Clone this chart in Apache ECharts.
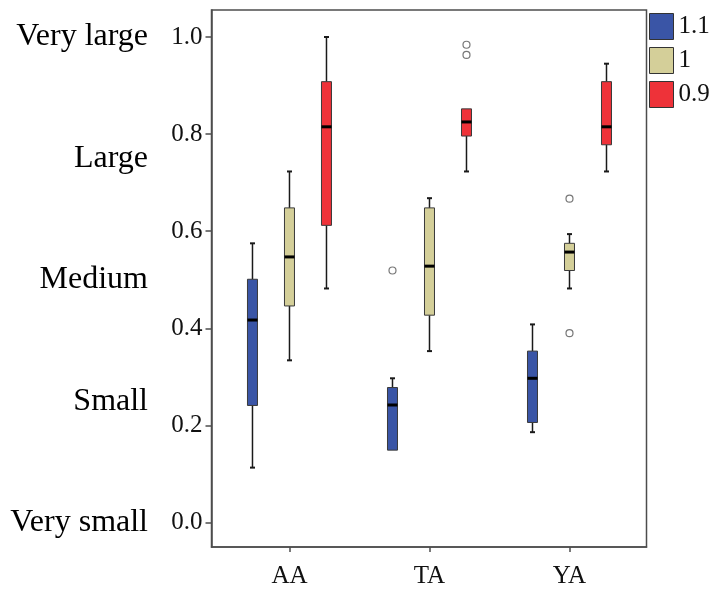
<!DOCTYPE html>
<html>
<head>
<meta charset="utf-8">
<script src="https://cdn.jsdelivr.net/npm/echarts@6/dist/echarts.min.js"></script>
<style>
  html, body { margin: 0; padding: 0; background: #fff; }
  #chart { width: 712px; height: 589px; }
</style>
</head>
<body>
<div id="chart"></div>
<script>
// Categories on the x axis and the three groups shown in the legend
const categories = ['AA', 'TA', 'YA'];
const groupNames = ['1.1', '1', '0.9'];

// Box statistics per category: [lower whisker, Q1, median, Q3, upper whisker]
const box11 = [
  [0.113, 0.241, 0.417, 0.501, 0.575],
  [0.149, 0.149, 0.242, 0.278, 0.297],
  [0.186, 0.206, 0.297, 0.353, 0.408]
];
const box10 = [
  [0.334, 0.446, 0.547, 0.648, 0.723],
  [0.353, 0.427, 0.528, 0.648, 0.668],
  [0.482, 0.519, 0.557, 0.575, 0.594]
];
const box09 = [
  [0.482, 0.612, 0.815, 0.908, 1.000],
  [0.723, 0.796, 0.825, 0.852, 0.852],
  [0.723, 0.778, 0.815, 0.908, 0.945]
];

// Outliers: [category index, value]
const out11 = [[1, 0.519]];
const out10 = [[2, 0.667], [2, 0.390]];
const out09 = [[1, 0.984], [1, 0.963]];

// Axis ticks and the verbal scale on the far left
const yTicks = [0, 0.2, 0.4, 0.6, 0.8, 1.0];
const levelTicks = [0, 0.25, 0.5, 0.75, 1.0];
const levelNames = ['Very small', 'Small', 'Medium', 'Large', 'Very large'];

const FONT = '"Liberation Serif", "Times New Roman", serif';
const colors = ['#3a55a6', '#d4cf99', '#ee3239'];
const offsets = [-37, 0, 37];
const BOX_W = 10;
const CAP_W = 5;
const FRAME = '#4d4d4d';

function boxRenderer(offset, color) {
  return function (params, api) {
    const xi = api.value(0);
    const pLow = api.coord([xi, api.value(1)]);
    const pQ1 = api.coord([xi, api.value(2)]);
    const pMed = api.coord([xi, api.value(3)]);
    const pQ3 = api.coord([xi, api.value(4)]);
    const pHigh = api.coord([xi, api.value(5)]);
    const cx = pLow[0] + offset;
    const lineStyle = { stroke: '#1a1a1a', lineWidth: 1.5 };
    const capStyle = { stroke: '#1a1a1a', lineWidth: 2 };
    const children = [];
    if (pLow[1] - pQ1[1] > 0.5) {
      children.push({ type: 'line', shape: { x1: cx, y1: pQ1[1], x2: cx, y2: pLow[1] }, style: lineStyle });
      children.push({ type: 'line', shape: { x1: cx - CAP_W / 2, y1: pLow[1], x2: cx + CAP_W / 2, y2: pLow[1] }, style: capStyle });
    }
    if (pQ3[1] - pHigh[1] > 0.5) {
      children.push({ type: 'line', shape: { x1: cx, y1: pHigh[1], x2: cx, y2: pQ3[1] }, style: lineStyle });
      children.push({ type: 'line', shape: { x1: cx - CAP_W / 2, y1: pHigh[1], x2: cx + CAP_W / 2, y2: pHigh[1] }, style: capStyle });
    }
    children.push({
      type: 'rect',
      shape: { x: cx - BOX_W / 2, y: pQ3[1], width: BOX_W, height: pQ1[1] - pQ3[1] },
      style: { fill: color, stroke: '#3a3a3a', lineWidth: 1 }
    });
    children.push({
      type: 'line',
      shape: { x1: cx - BOX_W / 2, y1: pMed[1], x2: cx + BOX_W / 2, y2: pMed[1] },
      style: { stroke: '#000', lineWidth: 3 }
    });
    return { type: 'group', children: children };
  };
}

const boxSets = [box11, box10, box09];
const outSets = [out11, out10, out09];

const series = [];
boxSets.forEach(function (set, g) {
  series.push({
    name: groupNames[g],
    type: 'custom',
    renderItem: boxRenderer(offsets[g], colors[g]),
    itemStyle: { color: colors[g] },
    encode: { x: 0, y: [1, 2, 3, 4, 5] },
    data: set.map(function (b, i) { return [i].concat(b); }),
    z: 3
  });
});
outSets.forEach(function (set, g) {
  if (!set.length) return;
  series.push({
    name: groupNames[g] + ' outliers',
    type: 'scatter',
    symbol: 'circle',
    symbolSize: 7,
    symbolOffset: [offsets[g], 0],
    itemStyle: { color: '#fff', borderColor: '#555', borderWidth: 1.2 },
    data: set,
    z: 4,
    silent: true
  });
});

const chart = echarts.init(document.getElementById('chart'), null, { renderer: 'canvas' });
chart.setOption({
  animation: false,
  backgroundColor: '#fff',
  textStyle: { fontFamily: FONT },
  grid: {
    left: 211.5, top: 10, right: 65.5, bottom: 42,
    show: true, borderColor: FRAME, borderWidth: 1.5, backgroundColor: 'transparent'
  },
  legend: {
    orient: 'vertical',
    left: 649, top: 13,
    padding: 0,
    itemWidth: 24, itemHeight: 26, itemGap: 7,
    selectedMode: false,
    textStyle: { fontFamily: FONT, fontSize: 25, color: '#111' },
    data: groupNames.map(function (n, g) {
      return { name: n, icon: 'rect', itemStyle: { color: colors[g], borderColor: '#333', borderWidth: 1 } };
    })
  },
  xAxis: {
    type: 'value',
    min: -0.557, max: 2.55,
    splitLine: { show: false },
    axisLine: { show: true, onZero: false, lineStyle: { color: FRAME, width: 1.5 } },
    axisTick: { show: true, customValues: [0, 1, 2], length: 5, lineStyle: { color: FRAME, width: 1.5 } },
    axisLabel: {
      customValues: [0, 1, 2],
      formatter: function (v) { return categories[Math.round(v)]; },
      fontFamily: FONT, fontSize: 25, color: '#111', margin: 17
    }
  },
  yAxis: [
    {
      type: 'value',
      min: -0.0505, max: 1.0556,
      splitLine: { show: false },
      axisLine: { show: true, onZero: false, lineStyle: { color: FRAME, width: 1.5 } },
      axisTick: { show: true, customValues: yTicks, length: 6, lineStyle: { color: FRAME, width: 1.5 } },
      axisLabel: {
        customValues: yTicks,
        formatter: function (v) { return v.toFixed(1); },
        fontFamily: FONT, fontSize: 25, color: '#111', margin: 9
      }
    },
    {
      type: 'value',
      position: 'left',
      offset: 63.5,
      min: -0.0505, max: 1.0556,
      splitLine: { show: false },
      axisLine: { show: false, onZero: false },
      axisTick: { show: false },
      axisLabel: {
        customValues: levelTicks,
        formatter: function (v) {
          let best = 0;
          levelTicks.forEach(function (t, i) { if (Math.abs(t - v) < Math.abs(levelTicks[best] - v)) best = i; });
          return levelNames[best];
        },
        fontFamily: FONT, fontSize: 32, color: '#000', margin: 0
      }
    }
  ],
  series: series
});
</script>
</body>
</html>
